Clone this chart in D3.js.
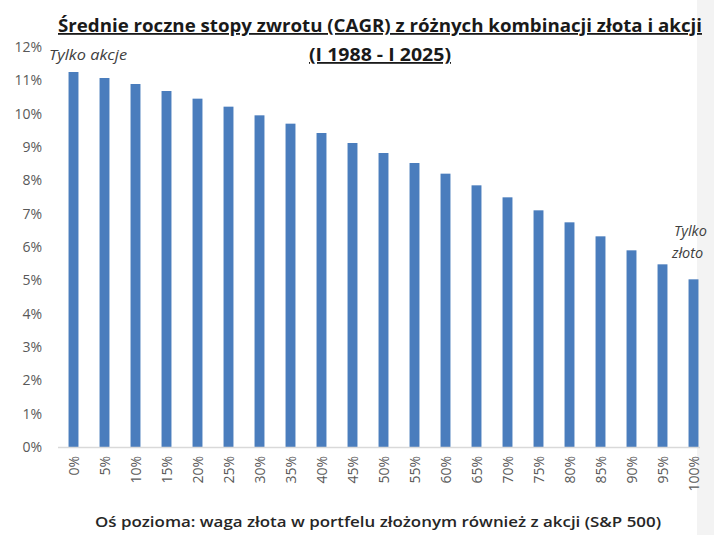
<!DOCTYPE html>
<html>
<head>
<meta charset="utf-8">
<script src="https://cdn.jsdelivr.net/npm/d3@7"></script>
<style>
  body { margin: 0; background: #fff; }
  #canvas { width: 714px; height: 535px; }
  text { font-family: "Open Sans", "DejaVu Sans", sans-serif; }
</style>
</head>
<body>
<div id="canvas" class="canvas"></div>
<script>
// udział złota w portfelu
var goldWeights = ['0%','5%','10%','15%','20%','25%','30%','35%','40%','45%','50%',
                   '55%','60%','65%','70%','75%','80%','85%','90%','95%','100%'];
// CAGR w %
var cagr = [11.25, 11.07, 10.89, 10.68, 10.45, 10.21, 9.95, 9.70, 9.42, 9.12, 8.82,
            8.52, 8.20, 7.85, 7.49, 7.10, 6.74, 6.32, 5.90, 5.48, 5.03];
var yTicks = [0,1,2,3,4,5,6,7,8,9,10,11,12];

var W = 714, H = 535;
var m = {t:47, r:6, b:88, l:58},
    w = W - m.l - m.r,
    h = 447 - m.t;

var svg = d3.select('.canvas')
    .append('svg')
    .attr('width', W)
    .attr('height', H);

// light grey strip at the right edge of the screenshot
svg.append('rect')
    .attr('x', 697).attr('y', 0).attr('width', 17).attr('height', H)
    .style('fill', '#f3f3f3');

var plot = svg.append('g')
    .attr('transform','translate('+ m.l +','+ m.t +')');

var x = d3.scaleBand().domain(goldWeights).range([0, 651]).paddingInner(0.68).paddingOuter(0.34);
var y = d3.scaleLinear().domain([0, 12]).range([h, 0]);

// y axis labels (no line)
plot.selectAll('.ylab')
    .data(yTicks)
    .enter().append('text')
    .attr('class','ylab')
    .attr('x', -16)
    .attr('y', function(d){ return y(d); })
    .attr('dy', '0.35em')
    .attr('text-anchor','end')
    .style('font-size','14px')
    .style('fill','#595959')
    .text(function(d){ return d + '%'; });

// bars
plot.selectAll('.bar')
    .data(cagr)
    .enter().append('rect')
    .attr('class','bar')
    .attr('x', function(d,i){ return x(goldWeights[i]); })
    .attr('width', x.bandwidth())
    .attr('y', function(d){ return y(d); })
    .attr('height', function(d){ return h - y(d); })
    .style('fill', '#4a7dbd');

// x axis line
plot.append('line')
    .attr('x1', 0).attr('x2', 642)
    .attr('y1', h + 0.5).attr('y2', h + 0.5)
    .style('stroke', '#d9d9d9').style('stroke-width', 1.5);

// rotated x labels
plot.selectAll('.xlab')
    .data(goldWeights)
    .enter().append('text')
    .attr('class','xlab')
    .attr('transform', function(d){
        var cx = x(d) + x.bandwidth()/2;
        return 'translate(' + (cx + 5) + ',' + (h + 9) + ') rotate(-90)';
    })
    .attr('text-anchor','end')
    .style('font-size','14px')
    .style('fill','#595959')
    .text(function(d){ return d; });

// annotations
svg.append('text')
    .attr('x', 49).attr('y', 60)
    .attr('textLength', 78).attr('lengthAdjust','spacingAndGlyphs')
    .style('font-size','14.5px').style('font-style','italic').style('fill','#404040')
    .text('Tylko akcje');
svg.append('text')
    .attr('x', 674).attr('y', 236)
    .style('font-size','14.5px').style('font-style','italic').style('fill','#404040')
    .text('Tylko');
svg.append('text')
    .attr('x', 672).attr('y', 258)
    .style('font-size','14.5px').style('font-style','italic').style('fill','#404040')
    .text('złoto');

// title
svg.append('text')
    .attr('x', 380).attr('y', 32)
    .attr('text-anchor','middle')
    .attr('textLength', 644).attr('lengthAdjust','spacingAndGlyphs')
    .style('font-size','18px').style('font-weight','bold').style('fill','#1a1a1a')
    .style('text-decoration','underline')
    .text('Średnie roczne stopy zwrotu (CAGR) z różnych kombinacji złota i akcji');
svg.append('text')
    .attr('x', 380).attr('y', 61)
    .attr('text-anchor','middle')
    .attr('textLength', 142).attr('lengthAdjust','spacingAndGlyphs')
    .style('font-size','18px').style('font-weight','bold').style('fill','#1a1a1a')
    .style('text-decoration','underline')
    .text('(I 1988 - I 2025)');

// x axis title
svg.append('text')
    .attr('x', 378).attr('y', 527)
    .attr('text-anchor','middle')
    .attr('textLength', 566).attr('lengthAdjust','spacingAndGlyphs')
    .style('font-size','15px').style('font-weight','600').style('fill','#262626')
    .text('Oś pozioma: waga złota w portfelu złożonym również z akcji (S&P 500)');
</script>
</body>
</html>
